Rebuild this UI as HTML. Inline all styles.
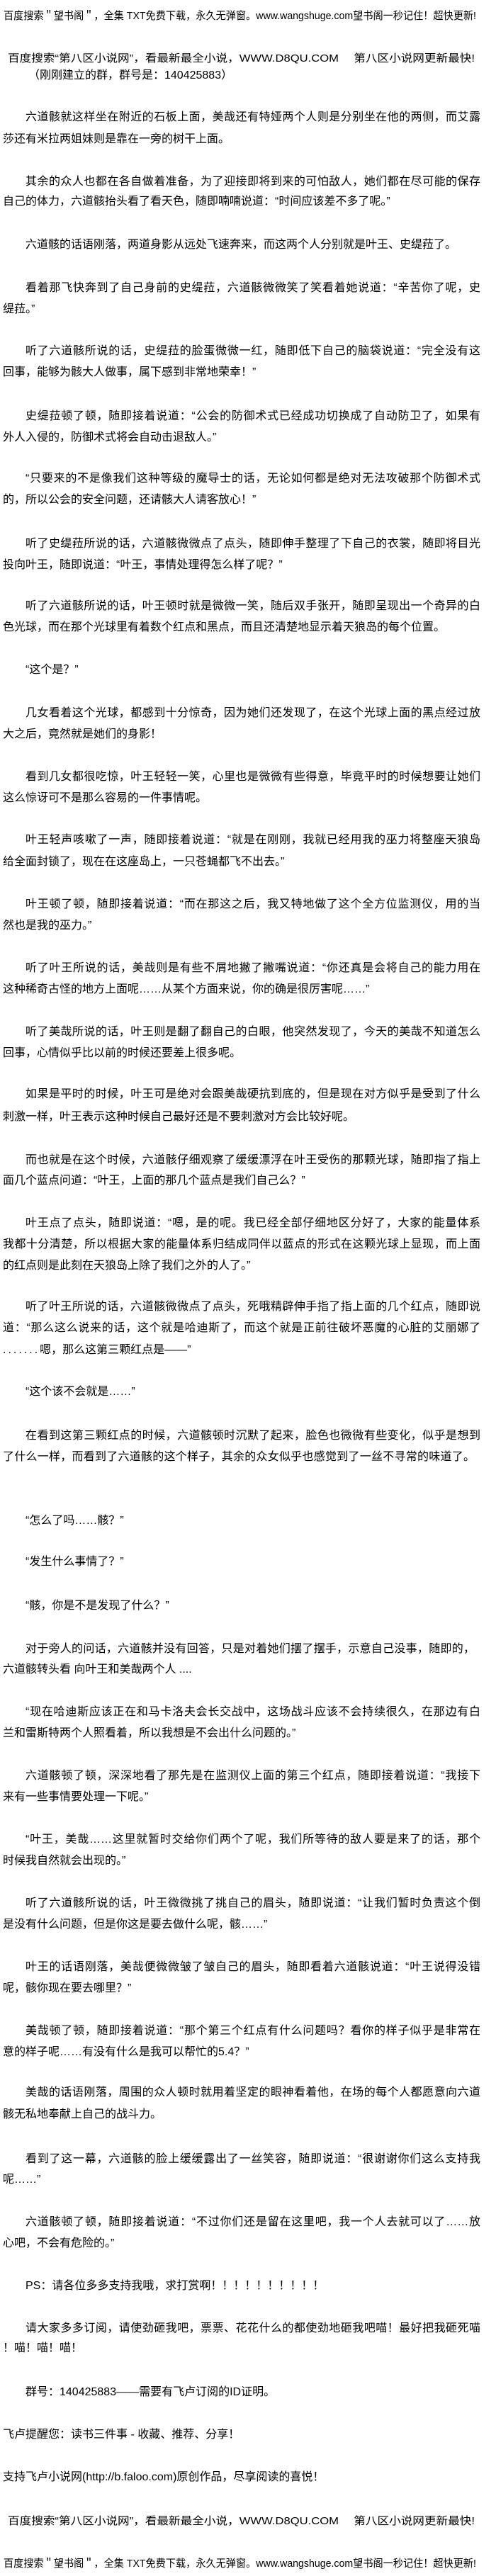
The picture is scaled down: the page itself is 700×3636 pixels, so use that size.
<!DOCTYPE html>
<html><head><meta charset="utf-8">
<style>
html,body{margin:0;padding:0;background:#fff;}
body{width:700px;height:3636px;position:relative;overflow:hidden;
font-family:"Liberation Sans","Noto Sans CJK SC",sans-serif;font-size:16px;color:#000;}
div{position:absolute;line-height:16px;height:16px;white-space:nowrap;}
svg.h{position:absolute;left:0;width:700px;height:24px;overflow:visible;}
svg.h text{font-family:"Liberation Sans","Noto Sans CJK SC",sans-serif;font-size:15px;fill:#000;}
.l{left:4px;}
.i{left:36px;}
.f{text-align:justify;text-align-last:justify;white-space:normal;overflow:visible;}
.l.f{width:674px;}
.i.f{width:642px;}
</style></head><body>
<svg class="h" style="top:10px"><text x="5" y="17" textLength="667" lengthAdjust="spacingAndGlyphs">百度搜索＂望书阁＂，全集 TXT免费下载，永久无弹窗。www.wangshuge.com望书阁一秒记住！超快更新!</text></svg>
<svg class="h" style="top:70px"><text x="11" y="17" textLength="659" lengthAdjust="spacingAndGlyphs">百度搜索“第八区小说网”，看最新最全小说，WWW.D8QU.COM　 第八区小说网更新最快!</text></svg>
<div style="left:40px;top:99px">（刚刚建立的群，群号是：140425883）</div>

<div class="i f" style="top:158px">六道骸就这样坐在附近的石板上面，美哉还有特娅两个人则是分别坐在他的两侧，而艾露</div>
<div class="l" style="top:189px">莎还有米拉两姐妹则是靠在一旁的树干上面。</div>

<div class="i f" style="top:249px">其余的众人也都在各自做着准备，为了迎接即将到来的可怕敌人，她们都在尽可能的保存</div>
<div class="l" style="top:277px">自己的体力，六道骸抬头看了看天色，随即喃喃说道：“时间应该差不多了呢。”</div>

<div class="i" style="top:338px">六道骸的话语刚落，两道身影从远处飞速奔来，而这两个人分别就是叶王、史缇菈了。</div>

<div class="i f" style="top:399px">看着那飞快奔到了自己身前的史缇菈，六道骸微微笑了笑看着她说道：“辛苦你了呢，史</div>
<div class="l" style="top:429px">缇菈。”</div>

<div class="i f" style="top:488px">听了六道骸所说的话，史缇菈的脸蛋微微一红，随即低下自己的脑袋说道：“完全没有这</div>
<div class="l" style="top:518px">回事，能够为骸大人做事，属下感到非常地荣幸！”</div>

<div class="i f" style="top:580px">史缇菈顿了顿，随即接着说道：“公会的防御术式已经成功切换成了自动防卫了，如果有</div>
<div class="l" style="top:610px">外人入侵的，防御术式将会自动击退敌人。”</div>

<div class="i f" style="top:668px">“只要来的不是像我们这种等级的魔导士的话，无论如何都是绝对无法攻破那个防御术式</div>
<div class="l" style="top:698px">的，所以公会的安全问题，还请骸大人请客放心！”</div>

<div class="i f" style="top:760px">听了史缇菈所说的话，六道骸微微点了点头，随即伸手整理了下自己的衣裳，随即将目光</div>
<div class="l" style="top:790px">投向叶王，随即说道：“叶王，事情处理得怎么样了呢？”</div>

<div class="i f" style="top:848px">听了六道骸所说的话，叶王顿时就是微微一笑，随后双手张开，随即呈现出一个奇异的白</div>
<div class="l" style="top:878px">色光球，而在那个光球里有着数个红点和黑点，而且还清楚地显示着天狼岛的每个位置。</div>

<div class="i" style="top:938px">“这个是？”</div>

<div class="i f" style="top:999px">几女看着这个光球，都感到十分惊奇，因为她们还发现了，在这个光球上面的黑点经过放</div>
<div class="l" style="top:1029px">大之后，竟然就是她们的身影！</div>

<div class="i f" style="top:1089px">看到几女都很吃惊，叶王轻轻一笑，心里也是微微有些得意，毕竟平时的时候想要让她们</div>
<div class="l" style="top:1119px">这么惊讶可不是那么容易的一件事情呢。</div>

<div class="i f" style="top:1178px">叶王轻声咳嗽了一声，随即接着说道：“就是在刚刚，我就已经用我的巫力将整座天狼岛</div>
<div class="l" style="top:1209px">给全面封锁了，现在在这座岛上，一只苍蝇都飞不出去。”</div>

<div class="i f" style="top:1269px">叶王顿了顿，随即接着说道：“而在那这之后，我又特地做了这个全方位监测仪，用的当</div>
<div class="l" style="top:1299px">然也是我的巫力。”</div>

<div class="i f" style="top:1359px">听了叶王所说的话，美哉则是有些不屑地撇了撇嘴说道：“你还真是会将自己的能力用在</div>
<div class="l" style="top:1389px">这种稀奇古怪的地方上面呢……从某个方面来说，你的确是很厉害呢……”</div>

<div class="i f" style="top:1449px">听了美哉所说的话，叶王则是翻了翻自己的白眼，他突然发现了，今天的美哉不知道怎么</div>
<div class="l" style="top:1479px">回事，心情似乎比以前的时候还要差上很多呢。</div>

<div class="i f" style="top:1537px">如果是平时的时候，叶王可是绝对会跟美哉硬抗到底的，但是现在对方似乎是受到了什么</div>
<div class="l" style="top:1569px">刺激一样，叶王表示这种时候自己最好还是不要刺激对方会比较好呢。</div>

<div class="i f" style="top:1630px">而也就是在这个时候，六道骸仔细观察了缓缓漂浮在叶王受伤的那颗光球，随即指了指上</div>
<div class="l" style="top:1659px">面几个蓝点问道：“叶王，上面的那几个蓝点是我们自己么？”</div>

<div class="i f" style="top:1719px">叶王点了点头，随即说道：“嗯，是的呢。我已经全部仔细地区分好了，大家的能量体系</div>
<div class="l f" style="top:1749px">我都十分清楚，所以根据大家的能量体系归结成同伴以蓝点的形式在这颗光球上显现，而上面</div>
<div class="l" style="top:1779px">的红点则是此刻在天狼岛上除了我们之外的人了。”</div>

<div class="i f" style="top:1837px">听了叶王所说的话，六道骸微微点了点头，死哦精辟伸手指了指上面的几个红点，随即说</div>
<div class="l f" style="top:1867px">道：“那么这么说来的话，这个就是哈迪斯了，而这个就是正前往破坏恶魔的心脏的艾丽娜了</div>
<div class="l" style="top:1898px"><span style="letter-spacing:3px">.......</span>嗯，那么这第三颗红点是——”</div>

<div class="i" style="top:1957px">“这个该不会就是……”</div>

<div class="i f" style="top:2019px">在看到这第三颗红点的时候，六道骸顿时沉默了起来，脸色也微微有些变化，似乎是想到</div>
<div class="l f" style="top:2049px;width:666px">了什么一样，而看到了六道骸的这个样子，其余的众女似乎也感觉到了一丝不寻常的味道了。</div>

<div class="i" style="top:2139px">“怎么了吗……骸？”</div>
<div class="i" style="top:2197px">“发生什么事情了？”</div>
<div class="i" style="top:2259px">“骸，你是不是发现了什么？”</div>

<div class="i f" style="top:2320px;width:634px">对于旁人的问话，六道骸并没有回答，只是对着她们摆了摆手，示意自己没事，随即的，</div>
<div class="l" style="top:2349px">六道骸转头看 向叶王和美哉两个人 ....</div>

<div class="i f" style="top:2409px">“现在哈迪斯应该正在和马卡洛夫会长交战中，这场战斗应该不会持续很久，在那边有白</div>
<div class="l" style="top:2439px">兰和雷斯特两个人照看着，所以我想是不会出什么问题的。”</div>

<div class="i f" style="top:2499px">六道骸顿了顿，深深地看了那先是在监测仪上面的第三个红点，随即接着说道：“我接下</div>
<div class="l" style="top:2529px">来有一些事情要处理一下呢。”</div>

<div class="i f" style="top:2589px">“叶王，美哉……这里就暂时交给你们两个了呢，我们所等待的敌人要是来了的话，那个</div>
<div class="l" style="top:2619px">时候我自然就会出现的。”</div>

<div class="i f" style="top:2679px">听了六道骸所说的话，叶王微微挑了挑自己的眉头，随即说道：“让我们暂时负责这个倒</div>
<div class="l" style="top:2709px">是没有什么问题，但是你这是要去做什么呢，骸……”</div>

<div class="i f" style="top:2769px">叶王的话语刚落，美哉便微微皱了皱自己的眉头，随即看着六道骸说道：“叶王说得没错</div>
<div class="l" style="top:2799px">呢，骸你现在要去哪里？”</div>

<div class="i f" style="top:2859px">美哉顿了顿，随即接着说道：“那个第三个红点有什么问题吗？看你的样子似乎是非常在</div>
<div class="l" style="top:2889px">意的样子呢……有没有什么是我可以帮忙的5.4？”</div>

<div class="i f" style="top:2946px">美哉的话语刚落，周围的众人顿时就用着坚定的眼神看着他，在场的每个人都愿意向六道</div>
<div class="l" style="top:2977px">骸无私地奉献上自己的战斗力。</div>

<div class="i f" style="top:3040px">看到了这一幕，六道骸的脸上缓缓露出了一丝笑容，随即说道：“很谢谢你们这么支持我</div>
<div class="l" style="top:3069px">呢……”</div>

<div class="i f" style="top:3129px">六道骸顿了顿，随即接着说道：“不过你们还是留在这里吧，我一个人去就可以了……放</div>
<div class="l" style="top:3159px">心吧，不会有危险的。”</div>

<div class="i" style="top:3219px">PS：请各位多多支持我哦，求打赏啊！！！！！！！！！！</div>

<div class="i f" style="top:3279px">请大家多多订阅，请使劲砸我吧，票票、花花什么的都使劲地砸我吧喵！最好把我砸死喵</div>
<div class="l" style="top:3307px">！喵！喵！喵！</div>

<div class="i" style="top:3369px">群号：140425883——需要有飞卢订阅的ID证明。</div>
<div class="l" style="top:3429px">飞卢提醒您：读书三件事 - 收藏、推荐、分享！</div>
<div class="l" style="top:3489px">支持飞卢小说网(http://b.faloo.com)原创作品，尽享阅读的喜悦！</div>

<svg class="h" style="top:3546px"><text x="11" y="17" textLength="659" lengthAdjust="spacingAndGlyphs">百度搜索“第八区小说网”，看最新最全小说，WWW.D8QU.COM　 第八区小说网更新最快!</text></svg>
<svg class="h" style="top:3606px"><text x="5" y="17" textLength="667" lengthAdjust="spacingAndGlyphs">百度搜索＂望书阁＂，全集 TXT免费下载，永久无弹窗。www.wangshuge.com望书阁一秒记住！超快更新!</text></svg>
</body></html>
